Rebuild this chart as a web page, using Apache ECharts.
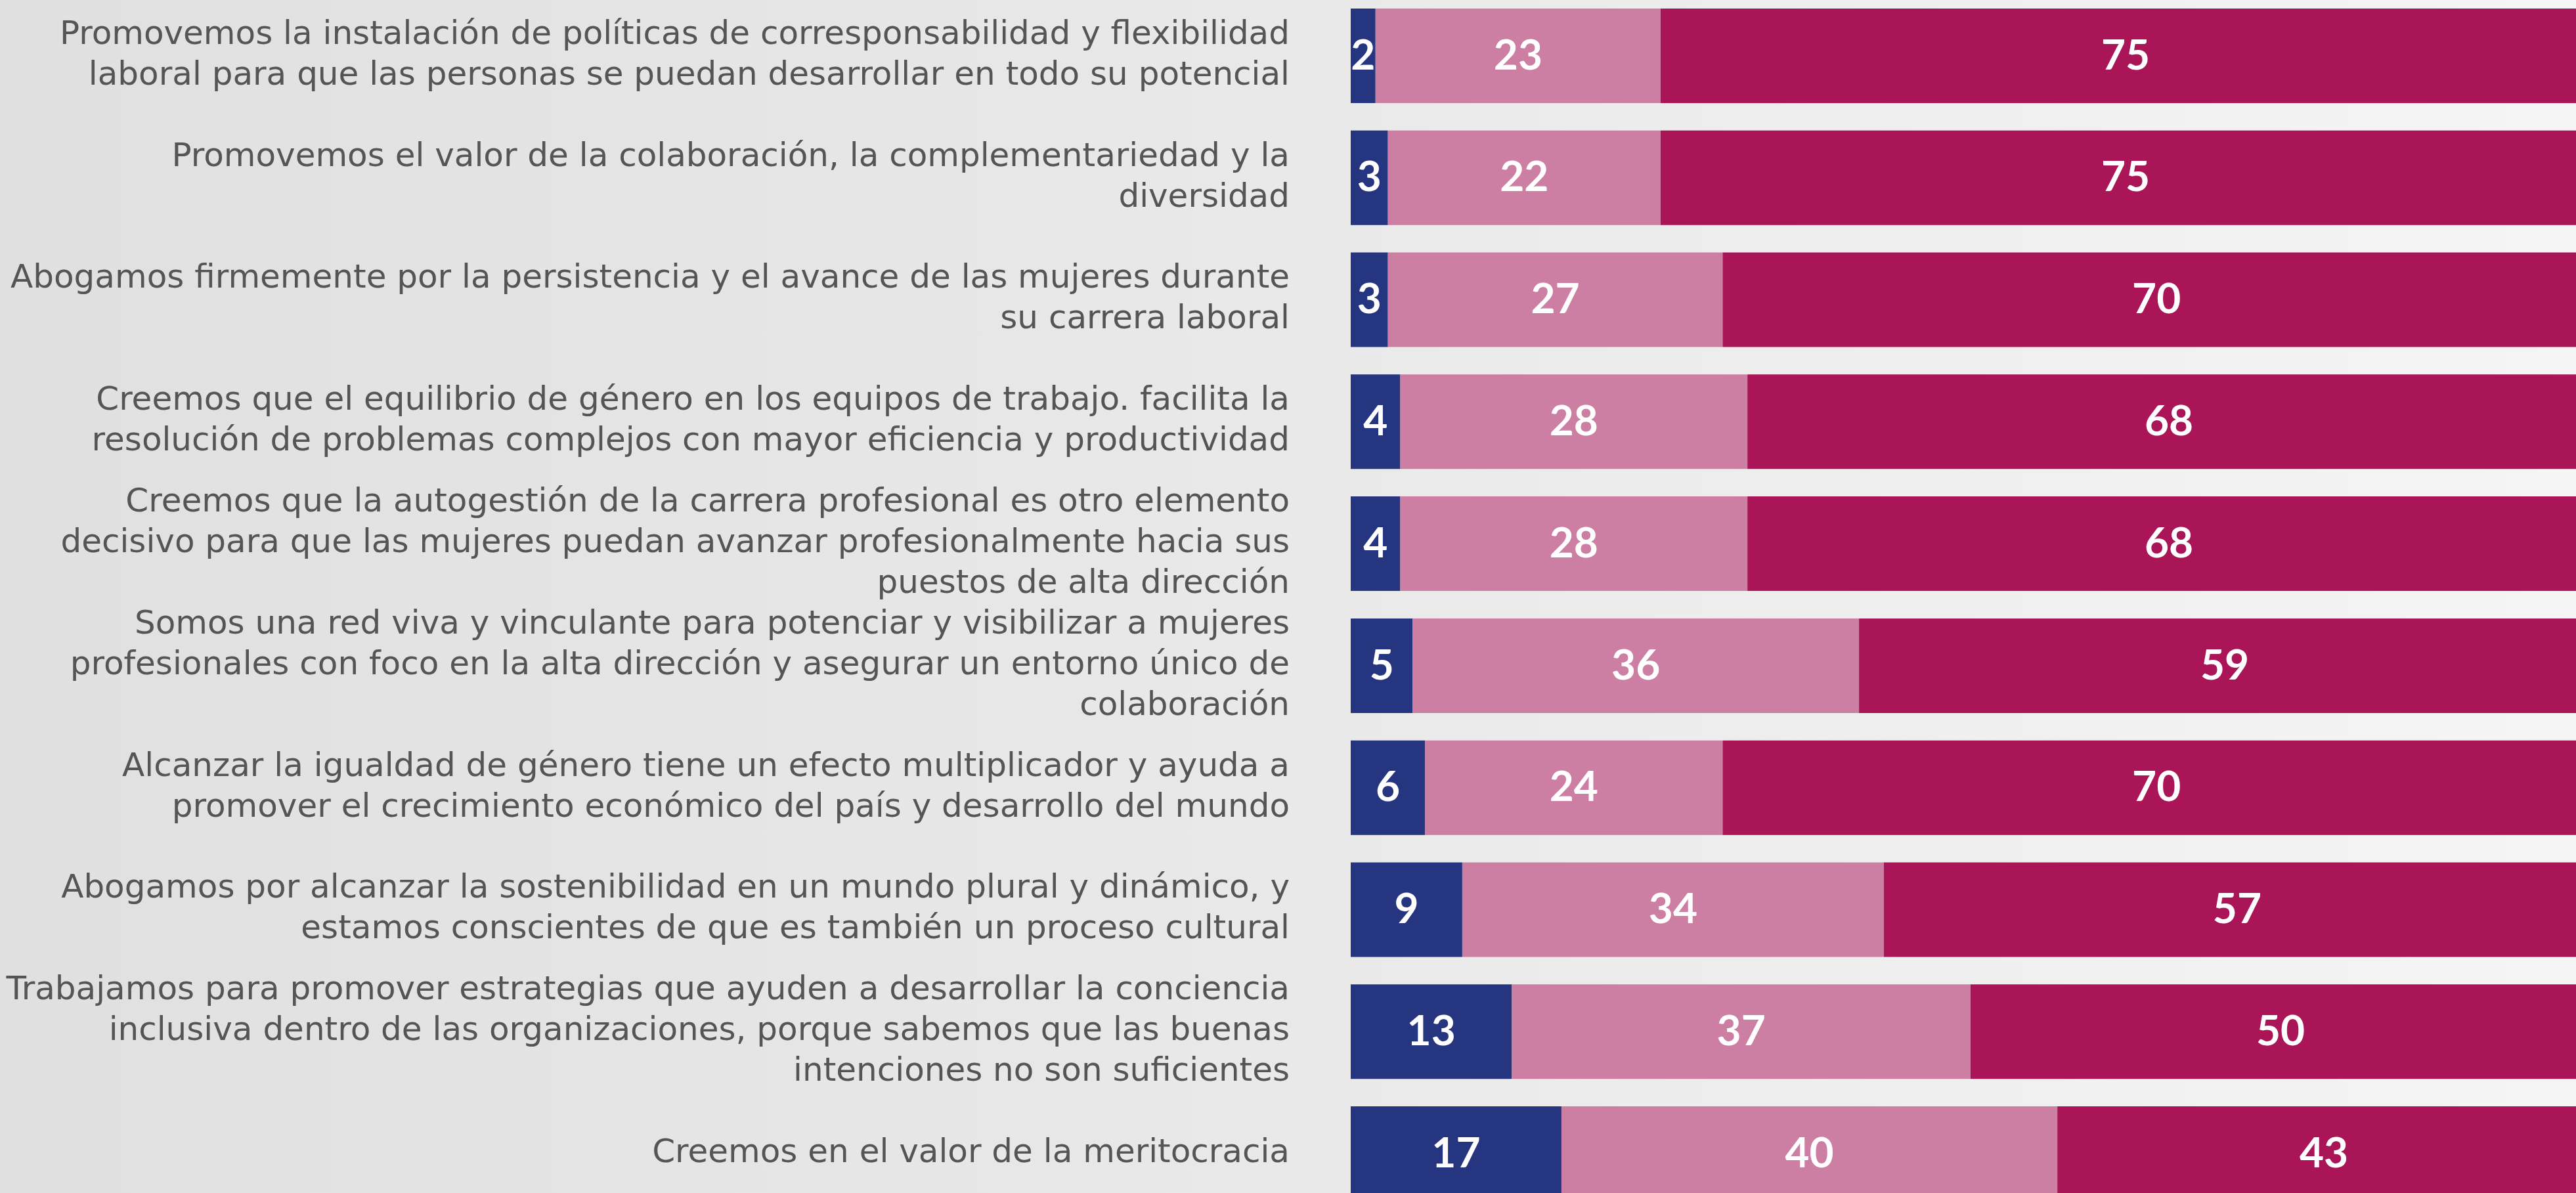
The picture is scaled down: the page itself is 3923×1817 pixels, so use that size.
<!DOCTYPE html>
<html>
<head>
  <meta charset="utf-8">
  <title>ECharts</title>
  <style>
    html, body { margin: 0; padding: 0; }
    #main {
      width: 3923px; height: 1817px;
      background: linear-gradient(to right, #e0e0e0 0%, #e9e9e9 50%, #f5f5f5 100%);
    }
  </style>
</head>
<body>
  <div id="main"></div>
  <script src="https://cdn.jsdelivr.net/npm/echarts@6/dist/echarts.min.js"></script>
  <script type="text/javascript">
    // categorías (de arriba hacia abajo)
    var categories = [
      'Promovemos la instalación de políticas de corresponsabilidad y flexibilidad\nlaboral para que las personas se puedan desarrollar en todo su potencial',
      'Promovemos el valor de la colaboración, la complementariedad y la\ndiversidad',
      'Abogamos firmemente por la persistencia y el avance de las mujeres durante\nsu carrera laboral',
      'Creemos que el equilibrio de género en los equipos de trabajo. facilita la\nresolución de problemas complejos con mayor eficiencia y productividad',
      'Creemos que la autogestión de la carrera profesional es otro elemento\ndecisivo para que las mujeres puedan avanzar profesionalmente hacia sus\npuestos de alta dirección',
      'Somos una red viva y vinculante para potenciar y visibilizar a mujeres\nprofesionales con foco en la alta dirección y asegurar un entorno único de\ncolaboración',
      'Alcanzar la igualdad de género tiene un efecto multiplicador y ayuda a\npromover el crecimiento económico del país y desarrollo del mundo',
      'Abogamos por alcanzar la sostenibilidad en un mundo plural y dinámico, y\nestamos conscientes de que es también un proceso cultural',
      'Trabajamos para promover estrategias que ayuden a desarrollar la conciencia\ninclusiva dentro de las organizaciones, porque sabemos que las buenas\nintenciones no son suficientes',
      'Creemos en el valor de la meritocracia'
    ];
    var bajo  = [2, 3, 3, 4, 4, 5, 6, 9, 13, 17];
    var medio = [23, 22, 27, 28, 28, 36, 24, 34, 37, 40];
    var alto  = [75, 75, 70, 68, 68, 59, 70, 57, 50, 43];

    var myChart = echarts.init(document.getElementById('main'));

    function serie(name, data, color) {
      return {
        name: name,
        type: 'bar',
        stack: 'total',
        data: data,
        barWidth: 144,
        itemStyle: { color: color },
        label: {
          show: true,
          position: 'inside',
          color: '#ffffff',
          fontFamily: 'Lato',
          fontWeight: 'bold',
          fontSize: 64
        }
      };
    }

    var option = {
      backgroundColor: 'transparent',
      animation: false,
      grid: {
        left: 2057, top: -8, width: 1888, height: 1858,
        containLabel: false, outerBoundsMode: 'none'
      },
      xAxis: {
        type: 'value', min: 0, max: 100, show: false
      },
      yAxis: {
        type: 'category',
        inverse: true,
        data: categories,
        axisLine: { show: false },
        axisTick: { show: false },
        splitLine: { show: false },
        axisLabel: {
          margin: 93,
          align: 'right',
          color: '#555555',
          fontFamily: 'DejaVu Sans',
          fontSize: 50,
          lineHeight: 62
        }
      },
      series: [
        serie('bajo', bajo, '#263580'),
        serie('medio', medio, '#cc7fa2'),
        serie('alto', alto, '#aa1558')
      ]
    };
    myChart.setOption(option);
  </script>
</body>
</html>
